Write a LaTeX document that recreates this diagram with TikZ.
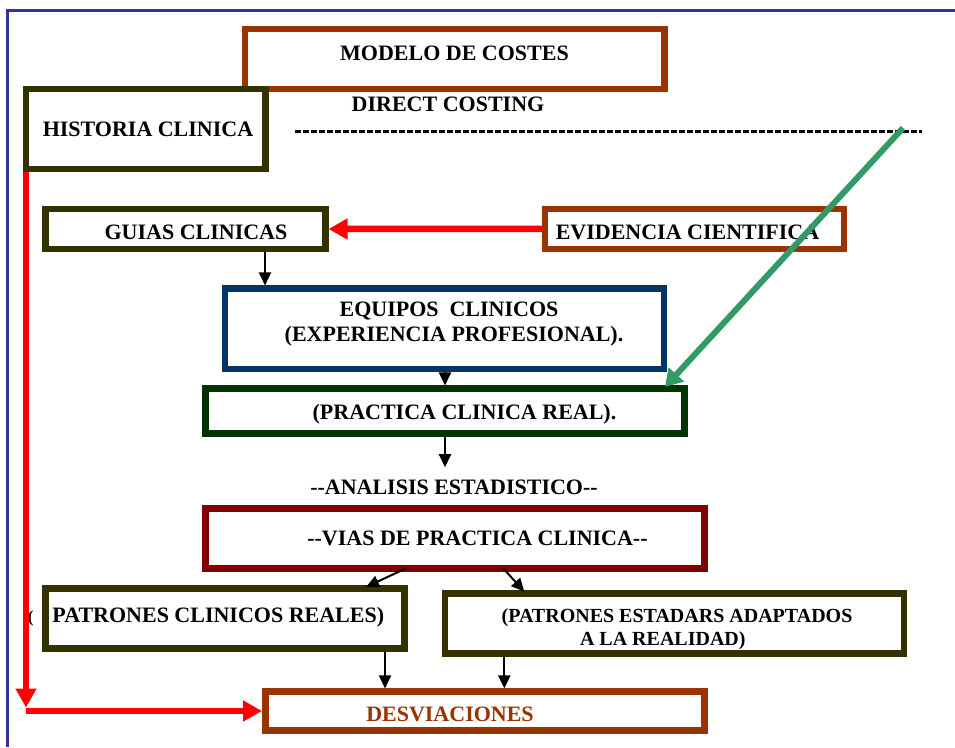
\documentclass[tikz,border=0pt]{standalone}
\usepackage{fontspec}
\setmainfont{Liberation Serif}
\usetikzlibrary{arrows.meta}

\definecolor{rustbrown}{HTML}{993300}
\definecolor{olivedark}{HTML}{333300}
\definecolor{navyblue}{HTML}{003366}
\definecolor{forestdark}{HTML}{003300}
\definecolor{maroondark}{HTML}{800000}
\definecolor{seagreen}{HTML}{339966}
\definecolor{frameblue}{HTML}{333399}

\begin{document}
\begin{tikzpicture}[x=1pt,y=-1pt,
  box/.style={draw=#1, line width=6.5pt, rectangle, inner sep=0pt},
  lbl/.style={font=\bfseries\fontsize{22pt}{25pt}\selectfont, inner sep=0pt, anchor=base},
  lblsmall/.style={lbl, font=\bfseries\fontsize{20pt}{23pt}\selectfont},
  flow/.style={draw=black, line width=2pt, -{Triangle[length=13pt,width=12pt]}},
  redflow/.style={draw=red, line width=6.5pt, -{Triangle[length=19pt,width=20pt]}},
  greenflow/.style={draw=seagreen, line width=6pt, -{Triangle[length=17pt,width=20pt]}},
  dashline/.style={draw=black, line width=3pt, dash pattern=on 5.6pt off 2.4pt}
]
\useasboundingbox (0,0) rectangle (955,747);

% page frame (top and left edges)
\coordinate (frameBL) at (7.5,747);
\coordinate (frameTL) at (7.5,10.5);
\coordinate (frameTR) at (955,10.5);
\draw[frameblue, line width=3pt] (frameBL) -- (frameTL) -- (frameTR);

% boxes
\node[box=rustbrown, minimum width=419.5pt, minimum height=60pt] (modelo) at (454.75,59) {};
\node[box=olivedark, minimum width=239.3pt, minimum height=80pt] (historia) at (145.65,129) {};
\node[box=olivedark, minimum width=279.6pt, minimum height=40pt] (guias) at (185.5,229) {};
\node[box=rustbrown, minimum width=299pt, minimum height=39.7pt] (evidencia) at (694.5,228.9) {};
\node[box=navyblue, minimum width=439pt, minimum height=80.3pt] (equipos) at (444.5,328.85) {};
\node[box=forestdark, minimum width=479.4pt, minimum height=45pt] (practica) at (445,411.2) {};
\node[box=maroondark, minimum width=499.4pt, minimum height=60pt] (vias) at (455,538.7) {};
\node[box=olivedark, minimum width=359pt, minimum height=60pt] (reales) at (225.2,618.3) {};
\node[box=olivedark, minimum width=459pt, minimum height=60pt] (estadars) at (674.5,623.3) {};
\node[box=rustbrown, minimum width=439.4pt, minimum height=38.6pt] (desv) at (485,711) {};

% texts
\node[lbl] (t-modelo) at (454.5,60) {MODELO DE COSTES};
\node[lbl] (t-direct) at (448,111) {DIRECT COSTING};
\node[lbl] (t-historia) at (148,136.7) {HISTORIA CLINICA};
\node[lbl] (t-guias) at (196,239.3) {GUIAS CLINICAS};
\node[lbl] (t-evidencia) at (687.5,239.3) {EVIDENCIA CIENTIFICA};
\node[lbl] (t-equipos) at (449,316.7) {EQUIPOS\ \ CLINICOS};
\node[lbl] (t-experiencia) at (454,341.7) {(EXPERIENCIA PROFESIONAL).};
\node[lbl] (t-practica) at (464.5,419.3) {(PRACTICA CLINICA REAL).};
\node[lbl, outer ysep=12.5pt] (t-analisis) at (454,494.3)
  {\mbox{-}\mbox{-}ANALISIS ESTADISTICO\mbox{-}\mbox{-}};
\node[lbl] (t-vias) at (477.5,545.7)
  {\mbox{-}\mbox{-}VIAS DE PRACTICA CLINICA\mbox{-}\mbox{-}};
\node[lbl, font=\bfseries\fontsize{17pt}{20pt}\selectfont] (t-paren) at (30.8,622) {(};
\node[lbl] (t-reales) at (218.3,622.7) {PATRONES CLINICOS REALES)};
\node[lblsmall] (t-estadars1) at (677,622.3) {(PATRONES ESTADARS ADAPTADOS};
\node[lblsmall] (t-estadars2) at (662.8,645) {A LA REALIDAD)};
\node[lbl, text=rustbrown] (t-desv) at (450,721.7) {DESVIACIONES};

% dashed rule under the costing title
\coordinate (dashL) at (295,131);
\coordinate (dashR) at (922,131);
\draw[dashline] (dashL) -- (dashR);

% black flow arrows
\draw[flow] ([xshift=79.5pt]guias.south) -- ([xshift=-179.5pt]equipos.north);
\draw[flow] (equipos.south -| practica.north) -- (practica.north);
\draw[flow] (practica.south) -- (practica.south |- t-analisis.north);
\draw[flow] ([xshift=-49.3pt,yshift=3.5pt]vias.south) -- ([xshift=140.8pt,yshift=-2pt]reales.north);
\draw[flow] ([xshift=48.3pt,yshift=3.5pt]vias.south) -- ([xshift=-150.2pt,yshift=-1.5pt]estadars.north);
\draw[flow] ([xshift=159.8pt]reales.south) -- ([xshift=-100pt]desv.north);
\draw[flow] ([xshift=-170.2pt]estadars.south) -- ([xshift=19.3pt]desv.north);

% red arrows
\draw[redflow] (evidencia.west) -- (guias.east);
\coordinate (redcorner) at (26,711);
\draw[redflow] ([xshift=3.25pt]historia.south west) -- ([yshift=3.5pt]redcorner);
\draw[redflow] (redcorner) -- (desv.west);

% green arrow
\coordinate (gstart) at (903,128);
\draw[greenflow] (gstart) -- ([xshift=-23pt,yshift=-1.5pt]practica.north east);
\end{tikzpicture}
\end{document}
